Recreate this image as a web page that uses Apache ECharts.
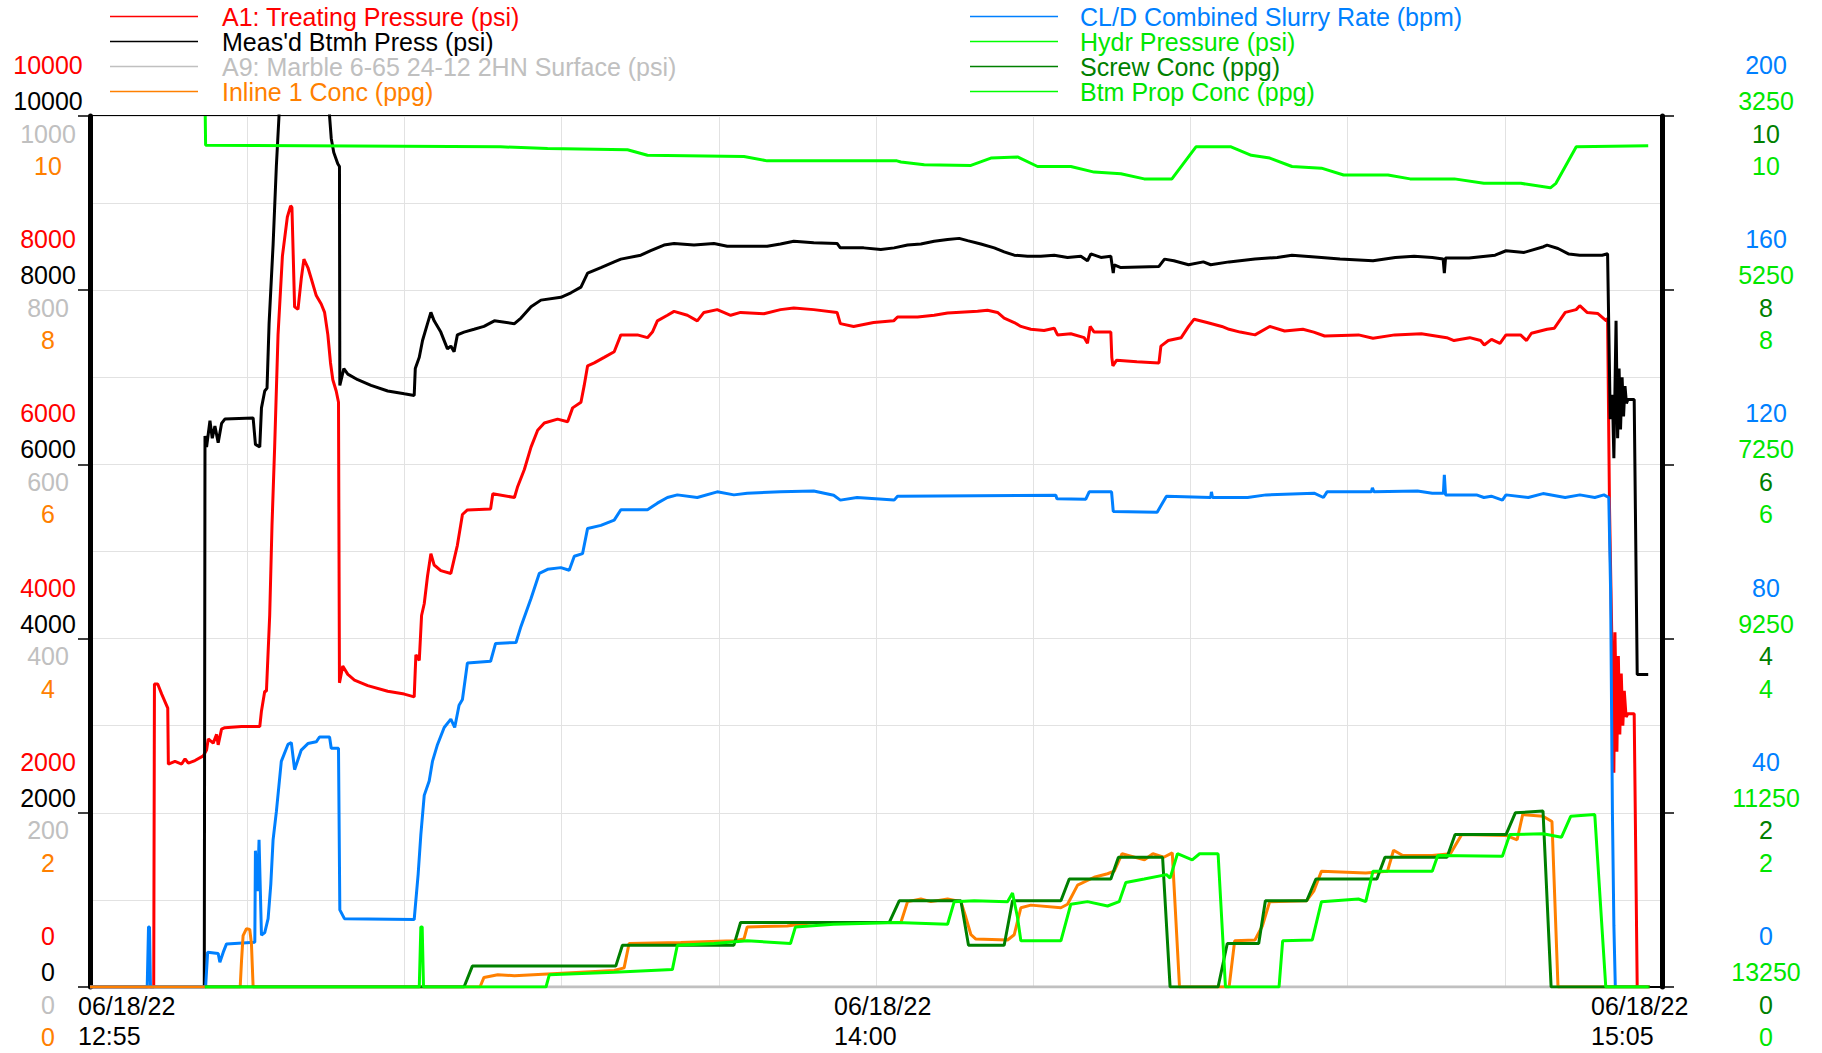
<!DOCTYPE html>
<html><head><meta charset="utf-8">
<script src="https://cdn.jsdelivr.net/npm/echarts@6/dist/echarts.min.js"></script>
<style>html,body{margin:0;padding:0;background:#fff}#c{width:1822px;height:1053px}</style>
</head><body><div id="c"></div>
<script>
// ---- time axis (minutes after 12:55) ----
const dateLabel = '06/18/22';
const timeTickMinutes = [0, 65, 130];
const timeTickLabels = ['12:55', '14:00', '15:05'];
const hydrTicks = [3250, 5250, 7250, 9250, 11250, 13250];

// ---- series: [minute, value] ----
const treatingPressure = [[0,0],[5.27,0],[5.33,3479],[5.6,3479],[5.93,3363],[6.43,3202],[6.48,2558],[7.03,2590],[7.58,2560],[7.86,2620],[8.13,2570],[8.68,2600],[9.37,2654],[9.64,2720],[9.78,2848],[10.19,2800],[10.47,2900],[10.6,2780],[10.88,2960],[11.15,2977],[12.53,2990],[14.04,2990],[14.18,3170],[14.45,3395],[14.59,3395],[14.86,4265],[15.05,5296],[15.27,6198],[15.55,7487],[15.91,8389],[16.32,8840],[16.59,8969],[16.7,8950],[16.92,7809],[17.2,7780],[17.47,8131],[17.69,8357],[18.02,8260],[18.3,8131],[18.71,7938],[19.12,7841],[19.4,7745],[19.67,7487],[19.89,7165],[20.08,6972],[20.36,6843],[20.55,6714],[20.63,3492],[20.9,3685],[21.32,3589],[21.87,3524],[22.97,3460],[24.62,3395],[25.99,3363],[26.81,3331],[26.95,3814],[27.23,3750],[27.42,4265],[27.64,4400],[27.91,4716],[28.19,4974],[28.46,4845],[29.01,4780],[29.84,4748],[30.11,4909],[30.38,5071],[30.8,5425],[31.21,5477],[33.13,5489],[33.31,5664],[35.1,5620],[35.37,5747],[35.92,5941],[36.47,6198],[37.02,6392],[37.57,6475],[38.67,6520],[39.5,6490],[39.91,6649],[40.6,6714],[40.87,6907],[41.15,7132],[41.7,7165],[42.52,7229],[43.35,7294],[43.9,7487],[45.27,7487],[46.1,7455],[46.51,7519],[46.92,7648],[47.75,7712],[48.3,7757],[49.4,7712],[50.22,7648],[50.77,7745],[51.87,7777],[52.98,7712],[53.8,7745],[55.73,7730],[57.1,7777],[58.2,7796],[59.85,7777],[61.78,7745],[62.05,7616],[63.15,7584],[64.8,7629],[66.46,7648],[66.78,7693],[68.44,7693],[69.81,7712],[70.92,7738],[73.4,7757],[74.22,7770],[75.05,7745],[75.6,7680],[76.43,7629],[76.98,7584],[77.8,7551],[78.9,7538],[79.74,7564],[80.01,7487],[81.11,7500],[82.22,7455],[82.49,7390],[82.71,7584],[83.04,7519],[84.42,7519],[84.5,7229],[84.59,7132],[84.9,7197],[86.57,7178],[88.4,7165],[88.56,7358],[89.17,7422],[90.24,7455],[90.85,7584],[91.31,7667],[92.37,7629],[93.6,7584],[94.2,7551],[95.12,7519],[96.34,7487],[97.56,7584],[98.79,7532],[100.3,7551],[101.2,7519],[102.1,7474],[104.9,7487],[106.1,7449],[107.9,7487],[110.1,7500],[112.2,7455],[112.8,7422],[114.1,7455],[115,7422],[115.3,7371],[115.9,7436],[116.6,7390],[117.1,7487],[118.3,7487],[118.8,7422],[119.2,7506],[120.5,7551],[121.1,7564],[122,7745],[122.9,7777],[123.2,7822],[123.8,7745],[124.7,7732],[125.4,7648],[125.5,7680],[125.66,5500],[125.9,3621],[126.02,2461],[126.11,4072],[126.27,2700],[126.39,3800],[126.51,2900],[126.63,3600],[126.76,3000],[126.88,3400],[127.03,3100],[127.18,3138],[127.7,3138],[127.95,0]];

const btmhPress = [[0,0],[9.45,0],[9.51,6327],[9.64,6200],[9.92,6501],[10.11,6300],[10.33,6440],[10.6,6250],[10.88,6470],[11.15,6520],[13.49,6533],[13.68,6230],[14.04,6200],[14.18,6649],[14.45,6843],[14.64,6876],[14.81,7616],[15.14,8518],[15.41,9420],[15.63,10000],[15.69,10500],[19.75,10500],[19.81,10000],[19.95,9742],[20.16,9581],[20.49,9452],[20.63,9420],[20.66,6907],[20.99,7100],[21.32,7036],[22.14,6972],[23.24,6907],[24.62,6843],[25.99,6810],[26.81,6791],[26.9,7100],[27.23,7230],[27.5,7422],[27.91,7616],[28.19,7745],[28.46,7648],[29.01,7519],[29.56,7326],[29.84,7358],[30.11,7294],[30.38,7487],[30.93,7519],[31.76,7551],[32.58,7584],[33.44,7648],[35.1,7616],[35.64,7680],[36.47,7809],[37.29,7886],[38.94,7918],[39.77,7970],[40.6,8035],[41.15,8196],[42.25,8260],[43.35,8325],[43.9,8357],[45.55,8402],[46.37,8453],[47.47,8518],[48.3,8537],[49.95,8518],[51.6,8537],[52.7,8505],[56.0,8505],[57.1,8531],[58.2,8563],[59.85,8544],[61.78,8537],[62.05,8486],[63.98,8486],[65.4,8466],[66.5,8486],[67.61,8518],[68.71,8531],[69.81,8563],[70.92,8582],[71.88,8595],[72.57,8569],[73.67,8531],[74.78,8486],[75.6,8440],[76.43,8402],[77.53,8389],[78.63,8389],[79.74,8402],[80.84,8376],[81.94,8389],[82.49,8338],[82.77,8418],[83.6,8376],[84.42,8389],[84.62,8196],[84.7,8292],[85.25,8260],[88.4,8273],[88.86,8357],[89.63,8338],[90.85,8292],[92.07,8325],[92.68,8292],[94.2,8325],[96.34,8357],[98.18,8376],[99.4,8402],[101.84,8376],[103.37,8357],[106.1,8338],[107.95,8376],[109.5,8389],[111,8376],[111.9,8357],[112.0,8196],[112.1,8370],[114.05,8370],[116.2,8402],[117.1,8453],[118.6,8434],[120.2,8499],[120.5,8518],[121.4,8479],[122.3,8415],[123.2,8402],[125.05,8402],[125.5,8418],[125.72,6520],[125.9,6800],[126.02,6070],[126.2,7648],[126.33,6300],[126.45,7100],[126.57,6400],[126.7,7000],[126.82,6550],[126.94,6900],[127.06,6700],[127.18,6746],[127.7,6746],[127.95,3589],[128.86,3589]];

const surfaceA9 = [[0,0],[128.9,0]];

const inlineConc = [[0,0],[12.42,0],[12.53,0.3],[12.66,0.59],[12.94,0.67],[13.21,0.66],[13.35,0.5],[13.49,0],[32.25,0],[32.58,0.11],[33.72,0.14],[35.1,0.13],[37.84,0.15],[40.6,0.17],[43.35,0.19],[44.17,0.22],[44.58,0.5],[48.85,0.51],[53.25,0.53],[54.08,0.55],[54.35,0.69],[57.65,0.7],[59.85,0.74],[67.06,0.74],[67.61,0.98],[68.71,1.01],[69.54,0.98],[70.92,1.01],[72.02,0.98],[72.43,0.8],[72.85,0.6],[73.26,0.55],[75.88,0.54],[76.43,0.6],[76.98,0.91],[77.81,0.94],[80.29,0.91],[80.84,0.95],[81.67,1.17],[83.04,1.26],[84.15,1.3],[84.7,1.33],[85.35,1.53],[87.2,1.46],[87.9,1.53],[88.8,1.49],[89.5,1.54],[90.1,0],[94.2,0],[94.66,0.53],[96.34,0.54],[96.95,0.7],[97.56,0.98],[100.6,0.99],[101.2,1.1],[101.84,1.33],[105.5,1.31],[107.3,1.33],[107.8,1.57],[108.56,1.51],[111,1.51],[112.5,1.53],[113.44,1.75],[117.1,1.74],[118.02,1.69],[118.48,1.98],[120.16,1.96],[120.9,1.9],[121.4,0],[129,0]];

const slurryRate = [[0,0],[4.73,0],[4.84,13.8],[4.92,13.8],[5.0,0],[9.56,0],[9.73,8.0],[10.6,7.7],[10.74,5.7],[11.02,8.0],[11.29,9.9],[13.63,10.3],[13.68,31.3],[13.85,22],[13.98,33.8],[14.18,11.9],[14.45,12.5],[14.73,15.7],[14.95,23.5],[15.14,33.8],[15.41,40.2],[15.82,51.8],[16.37,55.7],[16.65,56.1],[16.92,49.9],[17.47,54.4],[18.02,55.9],[18.71,56.3],[18.98,57.4],[19.81,57.4],[19.95,54.8],[20.55,54.8],[20.66,17.7],[21.04,15.7],[26.81,15.5],[27.14,26],[27.36,35],[27.64,44],[28.05,47.3],[28.32,51.8],[28.74,55.7],[29.29,59.6],[29.84,61.5],[30.16,59.6],[30.52,64.7],[30.8,66],[31.21,74.4],[33.13,74.8],[33.54,78.9],[35.23,79.1],[35.64,82.8],[36.47,89.2],[37.16,95.0],[37.84,95.9],[38.94,96.3],[39.63,95.7],[40.05,98.9],[40.73,99.5],[41.15,105.3],[42.25,106.0],[43.35,107.2],[43.9,109.6],[46.1,109.6],[46.92,111.1],[47.75,112.4],[48.57,113.0],[50.22,112.4],[51.87,113.7],[53.25,113.0],[54.35,113.4],[57.1,113.7],[59.85,113.9],[61.5,112.9],[62.05,111.8],[63.43,112.4],[66.5,111.8],[66.78,112.7],[79.87,112.9],[79.96,112.1],[82.35,112.0],[82.63,113.7],[84.48,113.7],[84.62,109.2],[88.25,109.0],[88.56,110.5],[89.02,112.7],[92.68,112.4],[92.74,113.7],[92.83,112.4],[95.73,112.4],[97.26,113.0],[101.23,113.4],[102.0,112.4],[102.3,113.7],[105.96,113.7],[106.05,114.6],[106.18,113.7],[109.78,113.9],[111.0,113.4],[111.92,113.4],[112.0,117.6],[112.1,113.0],[114.66,113.0],[115.27,112.4],[115.88,112.7],[116.8,111.8],[117.1,113.0],[118.94,112.4],[120.16,113.3],[121.99,112.4],[123.21,113.0],[124.44,112.4],[125.2,113.0],[125.6,112.4],[125.75,91.0],[125.9,40],[126.02,14.2],[126.14,0]];

const hydrPressure = [[9.53,3250],[9.56,3585],[33.96,3604],[37.84,3624],[44.45,3637],[46.1,3701],[54.08,3714],[56.0,3765],[66.73,3765],[67.06,3778],[68.99,3811],[72.85,3817],[74.5,3733],[76.7,3720],[78.36,3830],[81.11,3830],[83.04,3894],[85.25,3914],[87.18,3972],[89.47,3972],[91.46,3604],[94.36,3604],[96.04,3701],[97.56,3733],[99.4,3830],[101.84,3849],[103.67,3927],[107.34,3927],[109.17,3972],[112.83,3972],[115.27,4023],[118.33,4023],[120.77,4075],[121.23,4023],[122.91,3604],[128.86,3591]];

const screwConc = [[9.5,0],[30.93,0],[31.62,0.24],[43.48,0.24],[44.03,0.48],[53.25,0.48],[53.8,0.74],[66.09,0.74],[66.92,0.99],[72.02,0.99],[72.65,0.48],[75.6,0.48],[76.29,0.99],[80.29,0.99],[80.98,1.24],[84.42,1.24],[85.05,1.49],[88.7,1.49],[89.32,0],[93.29,0],[94.05,0.5],[96.65,0.5],[97.2,0.99],[100.62,0.99],[101.38,1.24],[106.42,1.24],[107.09,1.49],[112.22,1.49],[112.89,1.75],[117.1,1.75],[117.87,2.0],[120.16,2.02],[120.83,0],[129,0]];

const btmPropConc = [[9.5,0],[27.23,0],[27.36,0.69],[27.47,0.69],[27.58,0],[37.71,0],[37.98,0.14],[43.35,0.17],[48.16,0.2],[48.57,0.48],[51.6,0.5],[54.35,0.53],[57.93,0.5],[58.34,0.69],[61.5,0.72],[66.73,0.74],[70.92,0.72],[71.47,0.98],[73.12,0.99],[75.88,0.98],[76.29,1.08],[76.7,0.8],[76.98,0.53],[80.29,0.53],[81.11,0.95],[82.49,0.98],[84.15,0.93],[85.11,0.98],[85.66,1.2],[87.18,1.24],[89.02,1.29],[89.32,1.25],[89.93,1.53],[91.15,1.46],[91.76,1.53],[93.29,1.53],[93.9,0],[98.33,0],[98.63,0.53],[101.08,0.54],[101.84,0.98],[104.89,1.01],[105.5,0.98],[106.1,1.33],[111,1.33],[111.46,1.51],[116.8,1.5],[117.41,1.75],[120.16,1.76],[121.69,1.72],[122.45,1.96],[124.44,1.98],[125.35,0],[128.9,0]];

// ---- names / colours ----
const FONT = "'Liberation Sans', Arial, sans-serif";
const N = {
  a1: 'A1: Treating Pressure (psi)',
  btmh: "Meas'd Btmh Press (psi)",
  a9: 'A9: Marble 6-65 24-12 2HN Surface (psi)',
  inl: 'Inline 1 Conc (ppg)',
  cld: 'CL/D Combined Slurry Rate (bpm)',
  hyd: 'Hydr Pressure (psi)',
  scr: 'Screw Conc (ppg)',
  btm: 'Btm Prop Conc (ppg)'
};
const C = { red:'#ff0000', black:'#000000', gray:'#c0c0c0', orange:'#ff8000', blue:'#0080ff', green:'#00ff00', greenTxt:'#00e600', dark:'#008000' };

function yax(o) {
  const ax = {
    type: 'value', position: o.pos, min: o.min, max: o.max,
    axisLine: { show: !!o.line, onZero: false, lineStyle: { color: '#000', width: 5 } },
    axisTick: { show: !!o.line, inside: false, length: 12, lineStyle: { color: '#000', width: 1.5 } },
    splitLine: { show: !!o.split, lineStyle: { color: '#e2e2e2', width: 1 } },
    minorTick: { show: false, splitNumber: 2 },
    minorSplitLine: { show: !!o.split, lineStyle: { color: '#e2e2e2', width: 1 } },
    axisLabel: {
      margin: o.margin, align: 'center', verticalAlign: 'middle',
      showMinLabel: true, showMaxLabel: true, hideOverlap: false,
      formatter: function (v) { return '{a|' + String(v) + '}'; },
      rich: { a: { color: o.color, fontSize: 25, fontFamily: FONT, padding: o.pad, align: 'center' } }
    }
  };
  if (o.interval != null) ax.interval = o.interval;
  if (o.inverse) ax.inverse = true;
  if (o.custom) ax.axisLabel.customValues = o.custom;
  return ax;
}

const yAxes = [
  yax({pos:'left', min:0, max:10000, interval:2000, line:true, split:true, color:C.red, margin:42, pad:[0,0,102,0]}),
  yax({pos:'left', min:0, max:10000, interval:2000, color:C.black, margin:42, pad:[0,0,30,0]}),
  yax({pos:'left', min:0, max:1000, interval:200, color:C.gray, margin:42, pad:[35,0,0,0]}),
  yax({pos:'left', min:0, max:10, interval:2, color:C.orange, margin:42, pad:[100,0,0,0]}),
  yax({pos:'right', min:0, max:200, interval:40, line:true, color:C.blue, margin:104, pad:[0,0,102,0]}),
  yax({pos:'right', min:3250, max:13250, inverse:true, custom:hydrTicks, color:C.greenTxt, margin:104, pad:[0,0,30,0]}),
  yax({pos:'right', min:0, max:10, interval:2, color:C.dark, margin:104, pad:[35,0,0,0]}),
  yax({pos:'right', min:0, max:10, interval:2, color:C.greenTxt, margin:104, pad:[100,0,0,0]})
];

function ser(name, data, color, yIdx) {
  return { name, type:'line', data, yAxisIndex:yIdx, xAxisIndex:0, symbol:'none', showSymbol:false,
    clip:true, lineStyle:{ color, width:3 }, itemStyle:{ color }, emphasis:{ disabled:true }, silent:true };
}

function legendBlock(left, padLeft, items) {
  return {
    orient:'vertical', left, top:4, padding:0, itemWidth:88, itemHeight:1.5, itemGap:0,
    icon:'rect', selectedMode:false,
    textStyle:{ fontSize:25, fontFamily:FONT, lineHeight:24, padding:[0,0,0,padLeft] },
    data: items.map(([name, color]) => ({ name, textStyle:{ color } }))
  };
}

const richBase = { width:100, align:'left', fontSize:25, lineHeight:30, color:'#000', fontFamily:FONT };
const option = {
  animation:false,
  backgroundColor:'#fff',
  textStyle:{ fontFamily:FONT },
  grid:{ left:90, right:160, top:116, bottom:66, containLabel:false, outerBoundsMode:'none',
    show:true, borderColor:'#000', borderWidth:2, backgroundColor:'transparent' },
  legend:[
    legendBlock(110, 19, [[N.a1,C.red],[N.btmh,C.black],[N.a9,C.gray],[N.inl,C.orange]]),
    legendBlock(970, 17, [[N.cld,C.blue],[N.hyd,C.greenTxt],[N.scr,C.dark],[N.btm,C.greenTxt]])
  ],
  xAxis:{
    type:'value', min:0, max:130, interval:13,
    axisLine:{ show:true, onZero:false, lineStyle:{ color:'#000', width:2 } },
    axisTick:{ show:false },
    splitLine:{ show:true, lineStyle:{ color:'#e2e2e2', width:1 } },
    axisLabel:{
      showMinLabel:true, showMaxLabel:true, hideOverlap:false, margin:4, align:'center', verticalAlign:'top',
      formatter:function(v){
        for (let i = 0; i < timeTickMinutes.length; i++) {
          if (Math.abs(v - timeTickMinutes[i]) < 1e-6) {
            const k = ['l','m','r'][i];
            return '{' + k + '|' + dateLabel + '}\n{' + k + '|' + timeTickLabels[i] + '}';
          }
        }
        return '';
      },
      rich:{
        l: Object.assign({}, richBase, { padding:[0,0,0,76] }),
        m: Object.assign({}, richBase, { padding:[0,0,0,16] }),
        r: Object.assign({}, richBase, { padding:[0,42,0,0] })
      }
    }
  },
  yAxis: yAxes,
  series:[
    ser(N.a1, treatingPressure, C.red, 0),
    ser(N.btmh, btmhPress, C.black, 1),
    ser(N.a9, surfaceA9, C.gray, 2),
    ser(N.cld, slurryRate, C.blue, 4),
    ser(N.hyd, hydrPressure, C.green, 5),
    ser(N.inl, inlineConc, C.orange, 3),
    ser(N.scr, screwConc, C.dark, 6),
    ser(N.btm, btmPropConc, C.green, 7)
  ]
};

const chart = echarts.init(document.getElementById('c'), null, { renderer:'svg', width:1822, height:1053 });
chart.setOption(option);
</script>
</body></html>
